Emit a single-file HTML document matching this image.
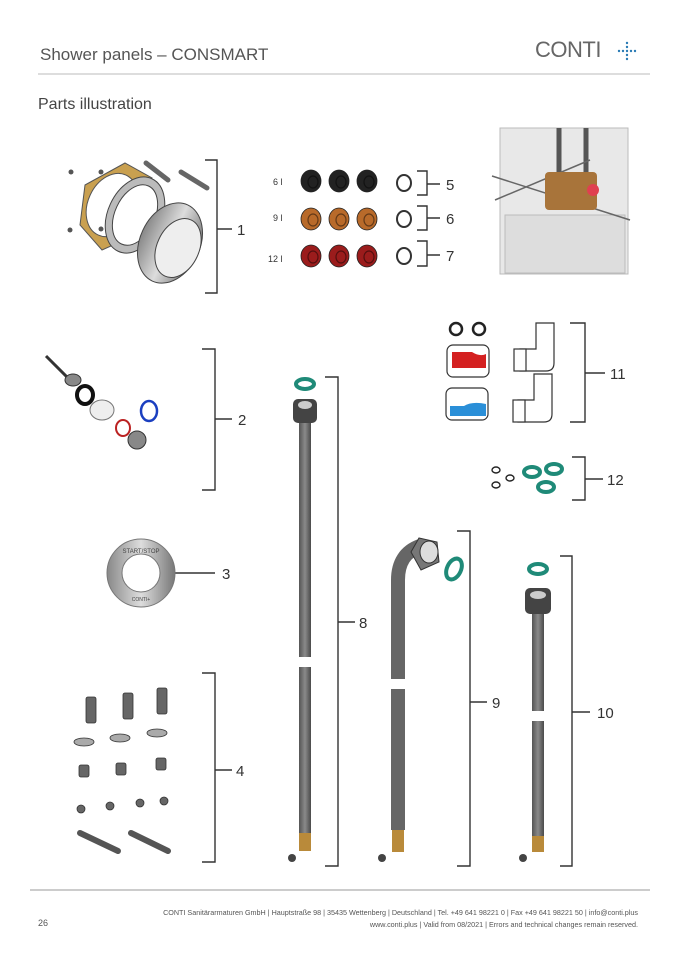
<!DOCTYPE html>
<html><head><meta charset="utf-8"><style>
html,body{margin:0;padding:0;background:#fff;}
body{width:678px;height:959px;overflow:hidden;position:relative;font-family:"Liberation Sans",sans-serif;}
svg{position:absolute;left:0;top:0;}
</style></head><body>
<svg width="678" height="959" viewBox="0 0 678 959" xmlns="http://www.w3.org/2000/svg">
<defs>
<linearGradient id="hose" x1="0" x2="1"><stop offset="0" stop-color="#555"/><stop offset=".5" stop-color="#8a8a8a"/><stop offset="1" stop-color="#4a4a4a"/></linearGradient>
<linearGradient id="met" x1="0" x2="1"><stop offset="0" stop-color="#888"/><stop offset=".5" stop-color="#ddd"/><stop offset="1" stop-color="#777"/></linearGradient>
</defs>
<text x="40" y="60" font-size="17" fill="#555">Shower panels – CONSMART</text>
<text x="535" y="57" font-size="22" fill="#666" letter-spacing="-0.5">CONTI</text>
<g fill="#2a7bb5"><circle cx="627" cy="43" r="1.2"/><circle cx="627" cy="47" r="1.2"/><circle cx="627" cy="55" r="1.2"/><circle cx="627" cy="59" r="1.2"/><circle cx="619" cy="51" r="1.2"/><circle cx="623" cy="51" r="1.2"/><circle cx="631" cy="51" r="1.2"/><circle cx="635" cy="51" r="1.2"/><circle cx="627" cy="51" r="1.2"/></g>
<line x1="38" y1="74" x2="650" y2="74" stroke="#bbb" stroke-width="1"/>
<text x="38" y="109" font-size="16" fill="#444">Parts illustration</text>

<line x1="30" y1="890" x2="650" y2="890" stroke="#999" stroke-width="1"/>
<text x="638" y="915" font-size="7.2" fill="#555" text-anchor="end">CONTI Sanitärarmaturen GmbH | Hauptstraße 98 | 35435 Wettenberg | Deutschland | Tel. +49 641 98221 0 | Fax +49 641 98221 50 | info@conti.plus</text>
<text x="638" y="927" font-size="7.2" fill="#555" text-anchor="end">www.conti.plus | Valid from 08/2021 | Errors and technical changes remain reserved.</text>
<text x="38" y="926" font-size="9" fill="#555">26</text>

<g stroke="#333" stroke-width="1.4" fill="none">
<path d="M205 160H217V293H205M217 229H232"/>
<path d="M417 171H427V195H417M427 184H440"/>
<path d="M417 206H427V230H417M427 218H440"/>
<path d="M417 241H427V266H417M427 255H440"/>
<path d="M570 323H585V422H570M585 373H605"/>
<path d="M572 457H585V500H572M585 479H603"/>
<path d="M202 349H215V490H202M215 419H232"/>
<path d="M170 573H215"/>
<path d="M202 673H215V862H202M215 770H232"/>
<path d="M325 377H338V866H325M338 622H355"/>
<path d="M457 531H470V866H457M470 702H487"/>
<path d="M560 556H572V866H560M572 712H590"/>
</g>
<g font-size="15" fill="#333">
<text x="237" y="235">1</text><text x="446" y="190">5</text><text x="446" y="224">6</text><text x="446" y="261">7</text>
<text x="610" y="379">11</text><text x="607" y="485">12</text><text x="238" y="425">2</text><text x="222" y="579">3</text>
<text x="236" y="776">4</text><text x="359" y="628">8</text><text x="492" y="708">9</text><text x="597" y="718">10</text>
</g>

<g>
<path d="M85 185L125 163 152 178 120 242 102 250 80 225Z" fill="#c9a050" stroke="#555" stroke-width="1"/>
<ellipse cx="112" cy="205" rx="24" ry="33" transform="rotate(25 112 205)" fill="#fff" stroke="#555"/>
<ellipse cx="135" cy="215" rx="27" ry="40" transform="rotate(25 135 215)" fill="#bbb" stroke="#444"/>
<ellipse cx="135" cy="215" rx="20" ry="32" transform="rotate(25 135 215)" fill="#fff" stroke="#444"/>
<ellipse cx="170" cy="243" rx="30" ry="42" transform="rotate(25 170 243)" fill="url(#met)" stroke="#444"/>
<ellipse cx="178" cy="248" rx="21" ry="31" transform="rotate(25 178 248)" fill="#eee" stroke="#444"/>
<line x1="146" y1="163" x2="168" y2="180" stroke="#666" stroke-width="5" stroke-linecap="round"/>
<line x1="181" y1="172" x2="207" y2="188" stroke="#666" stroke-width="5" stroke-linecap="round"/>
<g fill="#555"><circle cx="71" cy="172" r="2.5"/><circle cx="101" cy="172" r="2.5"/><circle cx="70" cy="230" r="2.5"/><circle cx="101" cy="229" r="2.5"/></g>
</g>
<g font-size="9" fill="#333"><text x="273" y="185">6 l</text><text x="273" y="221">9 l</text><text x="268" y="262">12 l</text></g>
<g stroke="#222" stroke-width=".8">
<g fill="#222"><ellipse cx="311" cy="181" rx="10" ry="11"/><ellipse cx="339" cy="181" rx="10" ry="11"/><ellipse cx="367" cy="181" rx="10" ry="11"/></g>
<g fill="#b86a2a"><ellipse cx="311" cy="219" rx="10" ry="11"/><ellipse cx="339" cy="219" rx="10" ry="11"/><ellipse cx="367" cy="219" rx="10" ry="11"/></g>
<g fill="#9b1c1c"><ellipse cx="311" cy="256" rx="10" ry="11"/><ellipse cx="339" cy="256" rx="10" ry="11"/><ellipse cx="367" cy="256" rx="10" ry="11"/></g>
</g>
<g fill="none" stroke="#000" stroke-opacity=".45" stroke-width="1.2">
<ellipse cx="313" cy="182" rx="5" ry="6"/><ellipse cx="341" cy="182" rx="5" ry="6"/><ellipse cx="369" cy="182" rx="5" ry="6"/>
<ellipse cx="313" cy="220" rx="5" ry="6"/><ellipse cx="341" cy="220" rx="5" ry="6"/><ellipse cx="369" cy="220" rx="5" ry="6"/>
<ellipse cx="313" cy="257" rx="5" ry="6"/><ellipse cx="341" cy="257" rx="5" ry="6"/><ellipse cx="369" cy="257" rx="5" ry="6"/>
</g>
<g fill="none" stroke="#333" stroke-width="2"><ellipse cx="404" cy="183" rx="7" ry="8"/><ellipse cx="404" cy="219" rx="7" ry="8"/><ellipse cx="404" cy="256" rx="7" ry="8"/></g>
<g>
<rect x="500" y="128" width="128" height="146" fill="#e8e8e8" stroke="#bbb"/>
<rect x="505" y="215" width="120" height="58" fill="#ddd" stroke="#bbb"/>
<line x1="559" y1="128" x2="559" y2="200" stroke="#555" stroke-width="5"/>
<line x1="586" y1="128" x2="586" y2="200" stroke="#555" stroke-width="5"/>
<line x1="492" y1="176" x2="630" y2="220" stroke="#666" stroke-width="1.5"/>
<line x1="495" y1="200" x2="590" y2="160" stroke="#666" stroke-width="1.5"/>
<rect x="545" y="172" width="52" height="38" rx="4" fill="#a8743a"/>
<circle cx="593" cy="190" r="6" fill="#e04050"/>
</g>
<g stroke="#222" stroke-width="2.5" fill="none"><circle cx="456" cy="329" r="6"/><circle cx="479" cy="329" r="6"/></g>
<g stroke="#333" stroke-width="1.2" fill="#fff">
<rect x="447" y="345" width="42" height="32" rx="6"/><rect x="446" y="388" width="42" height="32" rx="6"/>
<path d="M536 323h18v40q0 8-8 8h-26v-22h16z"/><path d="M534 374h18v40q0 8-8 8h-26v-22h16z"/>
<rect x="514" y="349" width="12" height="22"/><rect x="513" y="400" width="12" height="22"/>
</g>
<path d="M452 352h20q8 5 14 2v14h-34z" fill="#d42020"/>
<path d="M450 406h14q8-5 22-2v12h-36z" fill="#2a8fd8"/>
<g fill="none" stroke="#222" stroke-width="1.4"><ellipse cx="496" cy="470" rx="4" ry="3"/><ellipse cx="510" cy="478" rx="4" ry="3"/><ellipse cx="496" cy="485" rx="4" ry="3"/></g>
<g fill="none" stroke="#1f8a78" stroke-width="4"><ellipse cx="532" cy="472" rx="8" ry="5"/><ellipse cx="554" cy="469" rx="8" ry="5"/><ellipse cx="546" cy="487" rx="8" ry="5"/></g>
<g>
<line x1="46" y1="356" x2="75" y2="385" stroke="#333" stroke-width="3"/>
<ellipse cx="73" cy="380" rx="8" ry="6" fill="#888" stroke="#333"/>
<ellipse cx="85" cy="395" rx="8" ry="9" fill="none" stroke="#111" stroke-width="4"/>
<ellipse cx="102" cy="410" rx="12" ry="10" fill="#eee" stroke="#777"/>
<ellipse cx="123" cy="428" rx="7" ry="8" fill="none" stroke="#b22" stroke-width="2"/>
<ellipse cx="149" cy="411" rx="8" ry="10" fill="none" stroke="#1b3fc0" stroke-width="2.5"/>
<ellipse cx="137" cy="440" rx="9" ry="9" fill="#888" stroke="#333"/>
</g>
<g>
<circle cx="141" cy="573" r="34" fill="url(#met)" stroke="#777"/>
<circle cx="141" cy="573" r="19" fill="#fff" stroke="#777"/>
<text x="141" y="553" font-size="6" fill="#444" text-anchor="middle">START/STOP</text>
<text x="141" y="601" font-size="5" fill="#444" text-anchor="middle">CONTI+</text>
</g>
<g fill="#666" stroke="#333" stroke-width=".8">
<rect x="86" y="697" width="10" height="26" rx="2"/><rect x="123" y="693" width="10" height="26" rx="2"/><rect x="157" y="688" width="10" height="26" rx="2"/>
<ellipse cx="84" cy="742" rx="10" ry="4" fill="#aaa"/><ellipse cx="120" cy="738" rx="10" ry="4" fill="#aaa"/><ellipse cx="157" cy="733" rx="10" ry="4" fill="#aaa"/>
<rect x="79" y="765" width="10" height="12" rx="2"/><rect x="116" y="763" width="10" height="12" rx="2"/><rect x="156" y="758" width="10" height="12" rx="2"/>
<circle cx="81" cy="809" r="4"/><circle cx="110" cy="806" r="4"/><circle cx="140" cy="803" r="4"/><circle cx="164" cy="801" r="4"/>
</g>
<line x1="80" y1="833" x2="118" y2="851" stroke="#555" stroke-width="6" stroke-linecap="round"/>
<line x1="131" y1="833" x2="168" y2="851" stroke="#555" stroke-width="6" stroke-linecap="round"/>
<ellipse cx="305" cy="384" rx="9" ry="5" fill="none" stroke="#1f8a78" stroke-width="4"/>
<rect x="293" y="399" width="24" height="24" rx="5" fill="#444"/>
<ellipse cx="305" cy="405" rx="7" ry="4" fill="#ccc"/>
<rect x="299" y="423" width="12" height="410" fill="url(#hose)"/>
<rect x="290" y="657" width="30" height="10" fill="#fff"/>
<rect x="299" y="833" width="12" height="18" fill="#b98a3a"/>
<circle cx="292" cy="858" r="4" fill="#444"/>
<path d="M398 830V580q0-26 22-34" fill="none" stroke="#666" stroke-width="14"/>
<path d="M419 538l18 4 2 20-18 8-10-18z" fill="#777" stroke="#333"/>
<ellipse cx="429" cy="552" rx="9" ry="11" fill="#ddd" stroke="#333"/>
<ellipse cx="454" cy="569" rx="7" ry="11" transform="rotate(25 454 569)" fill="none" stroke="#1f8a78" stroke-width="4"/>
<rect x="384" y="679" width="30" height="10" fill="#fff"/>
<rect x="392" y="830" width="12" height="22" fill="#b98a3a"/>
<circle cx="382" cy="858" r="4" fill="#444"/>
<ellipse cx="538" cy="569" rx="9" ry="5" fill="none" stroke="#1f8a78" stroke-width="4"/>
<rect x="525" y="588" width="26" height="26" rx="5" fill="#444"/>
<ellipse cx="538" cy="595" rx="8" ry="4" fill="#ccc"/>
<rect x="532" y="614" width="12" height="222" fill="url(#hose)"/>
<rect x="524" y="711" width="30" height="10" fill="#fff"/>
<rect x="532" y="836" width="12" height="16" fill="#b98a3a"/>
<circle cx="523" cy="858" r="4" fill="#444"/>
</svg>
</body></html>
